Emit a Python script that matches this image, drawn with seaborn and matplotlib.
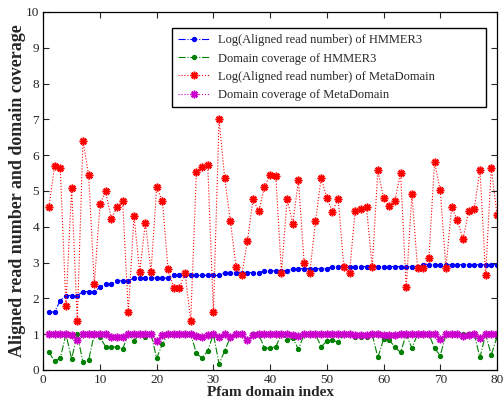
import numpy as np
import pandas as pd
import matplotlib
matplotlib.use("Agg")
import matplotlib.pyplot as plt
import seaborn as sns

# Pfam domain index 1..80
domain_index = list(range(1, 81))

hmmer_log_reads = [
    1.62, 1.62, 1.94, 2.08, 2.08, 2.08, 2.19, 2.19, 2.19, 2.31,
    2.41, 2.41, 2.49, 2.49, 2.49, 2.57, 2.57, 2.57, 2.57, 2.57,
    2.57, 2.57, 2.64, 2.64, 2.64, 2.64, 2.64, 2.64, 2.64, 2.64,
    2.64, 2.72, 2.72, 2.72, 2.72, 2.72, 2.72, 2.72, 2.77, 2.77,
    2.77, 2.77, 2.77, 2.83, 2.83, 2.83, 2.83, 2.83, 2.83, 2.83,
    2.89, 2.89, 2.89, 2.89, 2.89, 2.89, 2.89, 2.89, 2.89, 2.89,
    2.89, 2.89, 2.89, 2.89, 2.89, 2.89, 2.94, 2.94, 2.94, 2.94,
    2.94, 2.94, 2.94, 2.94, 2.94, 2.94, 2.94, 2.94, 2.94, 2.94,
]

hmmer_coverage = [
    0.50, 0.24, 0.33, 1.00, 0.31, 1.00, 0.21, 0.28, 1.00, 0.92,
    0.65, 0.65, 0.64, 0.59, 1.00, 0.81, 1.00, 0.92, 1.00, 0.33,
    0.72, 1.00, 1.00, 1.00, 1.00, 1.00, 0.47, 0.33, 0.54, 1.00,
    0.17, 0.54, 0.92, 1.00, 1.00, 0.84, 1.00, 1.00, 0.61, 0.61,
    0.65, 1.00, 0.84, 0.89, 0.58, 1.00, 1.00, 1.00, 0.65, 0.81,
    0.83, 0.78, 1.00, 1.00, 0.92, 0.92, 0.92, 1.00, 0.35, 0.86,
    0.84, 0.64, 0.49, 1.00, 0.61, 1.00, 1.00, 1.00, 0.61, 0.40,
    1.00, 1.00, 1.00, 1.00, 1.00, 1.00, 0.35, 1.00, 0.42, 0.92,
]

meta_log_reads = [
    4.56, 5.70, 5.63, 1.80, 5.08, 1.38, 6.41, 5.45, 2.39, 4.63,
    4.99, 4.23, 4.54, 4.71, 1.61, 4.30, 2.73, 4.12, 2.74, 5.10,
    4.73, 2.83, 2.30, 2.30, 2.70, 1.38, 5.53, 5.68, 5.74, 1.61,
    7.00, 5.35, 4.15, 2.88, 2.65, 3.61, 4.77, 4.43, 5.11, 5.45,
    5.41, 2.72, 4.77, 4.09, 5.30, 3.00, 2.72, 4.15, 5.36, 4.81,
    4.42, 4.79, 2.88, 2.72, 4.45, 4.50, 4.54, 2.88, 5.58, 4.80,
    4.59, 4.73, 5.51, 2.31, 4.92, 2.84, 2.84, 3.13, 5.81, 5.02,
    2.84, 4.54, 4.20, 3.65, 4.43, 4.50, 5.60, 2.64, 5.65, 4.34,
]

meta_coverage = [
    1.00, 1.00, 1.00, 1.00, 0.97, 0.85, 1.00, 1.00, 1.00, 1.00,
    1.00, 0.92, 0.92, 0.92, 1.00, 1.00, 1.00, 1.00, 1.00, 0.82,
    0.97, 1.00, 1.00, 1.00, 1.00, 1.00, 0.94, 0.92, 0.98, 1.00,
    0.92, 1.00, 0.92, 1.00, 1.00, 0.84, 0.98, 1.00, 1.00, 1.00,
    1.00, 1.00, 1.00, 0.97, 0.96, 1.00, 1.00, 1.00, 1.00, 1.00,
    1.00, 1.00, 1.00, 1.00, 0.97, 0.97, 0.97, 1.00, 1.00, 0.97,
    0.97, 0.97, 1.00, 1.00, 1.00, 1.00, 1.00, 1.00, 1.00, 0.86,
    1.00, 1.00, 1.00, 0.94, 0.98, 1.00, 0.88, 1.00, 1.00, 1.00,
]

labels = [
    "Log(Aligned read number) of HMMER3",
    "Domain coverage of HMMER3",
    "Log(Aligned read number) of MetaDomain",
    "Domain coverage of MetaDomain",
]


def main():
    sns.set_style("ticks")
    plt.rcParams["font.family"] = ["Liberation Serif", "DejaVu Serif"]

    fig = plt.figure(figsize=(5.03, 4.0), dpi=100)
    ax = fig.add_axes([0.086, 0.075, 0.902, 0.895])

    df = pd.DataFrame({
        "idx": domain_index,
        "hmmer_log": hmmer_log_reads,
        "hmmer_cov": hmmer_coverage,
        "meta_log": meta_log_reads,
        "meta_cov": meta_coverage,
    })

    asterisk = (8, 2, 0)
    styles = [
        ("hmmer_log", "#0000ff", "-.", ".", 6, 0.8),
        ("hmmer_cov", "#008000", "-.", ".", 6, 0.8),
        ("meta_log", "#ff0000", ":", asterisk, 5.5, 1.1),
        ("meta_cov", "#cc00cc", ":", asterisk, 5.5, 1.1),
    ]

    # light halo behind the asterisk markers
    for col, halo in [("meta_log", "#ffb3b3"), ("meta_cov", "#eab3ea")]:
        sns.scatterplot(data=df, x="idx", y=col, ax=ax, color=halo, s=30,
                        alpha=0.5, edgecolor="none", legend=False, zorder=1)

    for (col, color, ls, mk, ms, mew), lab in zip(styles, labels):
        sns.lineplot(data=df, x="idx", y=col, ax=ax, color=color,
                     linestyle=ls, linewidth=0.8, marker=mk, markersize=ms,
                     markeredgecolor=color, markerfacecolor=color,
                     markeredgewidth=mew, label=lab, zorder=2)

    ax.set_xlim(0, 80)
    ax.set_ylim(0, 10)
    ax.set_xticks(range(0, 81, 10))
    ax.set_yticks(range(0, 11))
    ax.tick_params(direction="in", top=True, right=True, labelsize=9.5,
                   length=4, width=0.8, pad=3)
    for sp in ax.spines.values():
        sp.set_visible(True)
        sp.set_linewidth(0.9)
        sp.set_color("black")

    ax.set_xlabel("Pfam domain index", fontsize=11, fontweight="bold", labelpad=0)
    ax.set_ylabel("Aligned read number and domain coverage", fontsize=13,
                  fontweight="bold", labelpad=0)

    leg = ax.legend(loc="upper left", bbox_to_anchor=(0.283, 0.734, 0.693, 0.221),
                    mode="expand", fontsize=9, frameon=True, fancybox=False,
                    edgecolor="black", framealpha=1, handlelength=2.5,
                    borderpad=0.5, labelspacing=0.5, handletextpad=0.7,
                    borderaxespad=0)
    leg.get_frame().set_linewidth(1.0)

    fig.savefig("out.png", dpi=100)
    plt.close(fig)


if __name__ == "__main__":
    main()
